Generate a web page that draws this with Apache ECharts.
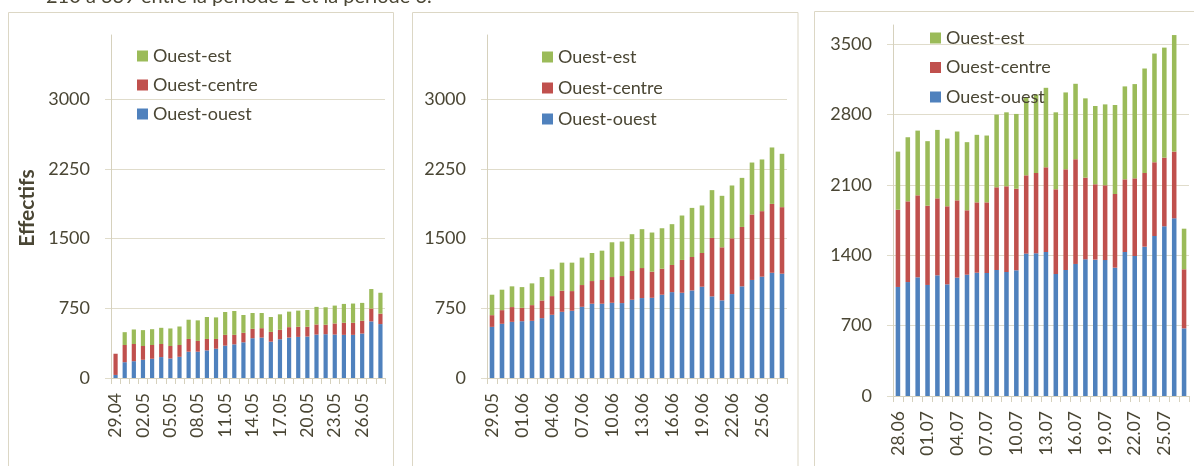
<!DOCTYPE html>
<html><head><meta charset="utf-8">
<script src="https://cdn.jsdelivr.net/npm/echarts@6/dist/echarts.min.js"></script>
<style>html,body{margin:0;padding:0;background:#fff}#c{width:1194px;height:466px}</style>
</head><body><div id="c"></div>
<script>
// ---- data ----
const cats1 = ['29.04','30.04','01.05','02.05','03.05','04.05','05.05','06.05','07.05','08.05','09.05','10.05','11.05','12.05','13.05','14.05','15.05','16.05','17.05','18.05','19.05','20.05','21.05','22.05','23.05','24.05','25.05','26.05','27.05','28.05'];
const cats2 = ['29.05','30.05','31.05','01.06','02.06','03.06','04.06','05.06','06.06','07.06','08.06','09.06','10.06','11.06','12.06','13.06','14.06','15.06','16.06','17.06','18.06','19.06','20.06','21.06','22.06','23.06','24.06','25.06','26.06','27.06'];
const cats3 = ['28.06','29.06','30.06','01.07','02.07','03.07','04.07','05.07','06.07','07.07','08.07','09.07','10.07','11.07','12.07','13.07','14.07','15.07','16.07','17.07','18.07','19.07','20.07','21.07','22.07','23.07','24.07','25.07','26.07','27.07'];

const p1Ouest  = [33,170,181,196,207,225,210,228,283,283,297,315,348,362,384,428,435,391,417,435,442,446,467,471,467,464,464,478,609,580];
const p1Centre = [228,185,185,148,148,141,134,127,137,116,123,105,116,102,102,101,101,105,101,112,109,105,109,102,120,130,130,138,138,112];
const p1Est    = [0,138,156,171,170,174,189,199,207,221,236,232,246,257,192,170,163,160,167,167,174,181,189,188,192,203,207,192,210,225];

const p2Ouest  = [550,583,604,611,615,644,680,712,723,766,799,799,809,806,842,860,863,896,924,917,942,982,878,835,903,986,1055,1090,1132,1122];
const p2Centre = [126,147,159,144,169,190,201,227,212,234,244,255,277,291,309,323,281,280,292,353,360,363,629,571,600,639,704,705,741,716];
const p2Est    = [220,220,223,223,234,252,288,302,306,295,302,316,374,371,396,418,421,435,439,478,528,511,514,554,568,528,559,556,607,574];

const p3Ouest  = [1085,1134,1181,1105,1201,1111,1178,1207,1227,1224,1254,1234,1251,1417,1420,1433,1214,1254,1314,1360,1357,1353,1277,1433,1393,1486,1592,1689,1768,673];
const p3Centre = [769,803,816,789,766,777,769,641,700,703,823,853,812,779,799,843,843,1002,1042,813,750,744,733,723,773,733,734,683,664,588];
const p3Est    = [578,638,644,642,681,674,685,678,672,665,723,736,744,776,781,791,766,765,751,789,779,805,886,925,938,1040,1082,1095,1160,404];

const yInterval1 = 750, yInterval3 = 700;
const seriesNames = ['Ouest-ouest','Ouest-centre','Ouest-est'];
const legendOrder = ['Ouest-est','Ouest-centre','Ouest-ouest'];
const headText = '210 à 339 entre la période 2 et la période 3.';
const yTitle = 'Effectifs';

// ---- style ----
const FONT = 'Lato';
const TXT = '#4a4634';
const GRID = '#e0dccb';
const AX = '#d6d1bd';
const COLORS = ['#4F81BD','#C0504D','#9BBB59'];

const panels = [
  {cats: cats1, data:[p1Ouest,p1Centre,p1Est], grid:{left:111, top:35, width:274, height:343}, max:3690, interval:yInterval1, legend:{left:132, top:41, gap:9}},
  {cats: cats2, data:[p2Ouest,p2Centre,p2Est], grid:{left:487, top:35, width:300, height:343}, max:3690, interval:yInterval1, legend:{left:537, top:42, gap:11}},
  {cats: cats3, data:[p3Ouest,p3Centre,p3Est], grid:{left:893, top:25, width:296, height:371}, max:3692, interval:yInterval3, legend:{left:925, top:23, gap:9.5}}
];

const option = {
  animation:false,
  textStyle:{fontFamily:FONT},
  grid: panels.map(p => Object.assign({containLabel:false}, p.grid)),
  legend: panels.map(p => ({
    data: legendOrder, orient:'vertical', left:p.legend.left, top:p.legend.top,
    itemWidth:11, itemHeight:11, itemGap:p.legend.gap, icon:'rect', selectedMode:false,
    textStyle:{fontFamily:FONT, fontSize:18, color:TXT, lineHeight:20}
  })),
  xAxis: panels.map((p,i) => ({
    type:'category', gridIndex:i, data:p.cats, boundaryGap:true,
    axisLine:{lineStyle:{color:AX, width:1}},
    axisTick:{show:true, interval:0, length:6, lineStyle:{color:AX}},
    axisLabel:{interval:2, rotate:90, margin:15, fontFamily:FONT, fontSize:17.5, color:TXT}
  })),
  yAxis: panels.map((p,i) => ({
    type:'value', gridIndex:i, min:0, max:p.max, interval:p.interval,
    axisLine:{show:true, lineStyle:{color:AX}},
    axisTick:{show:true, length:6, lineStyle:{color:GRID}},
    axisLabel:{margin:21, fontFamily:FONT, fontSize:18, color:TXT, showMaxLabel:false, formatter: v => String(v)},
    splitLine:{show:true, showMaxLine:false, lineStyle:{color:GRID, width:1}}
  })),
  series: [],
  graphic: [
    {type:'rect', shape:{x:8.5, y:12.5, width:385, height:500}, style:{fill:'none', stroke:'#dcd7c5', lineWidth:1}, silent:true},
    {type:'rect', shape:{x:412.5, y:12.5, width:385.5, height:500}, style:{fill:'none', stroke:'#dcd7c5', lineWidth:1}, silent:true},
    {type:'rect', shape:{x:814.5, y:11.5, width:420, height:500}, style:{fill:'none', stroke:'#dcd7c5', lineWidth:1}, silent:true},
    {type:'text', x:46, y:-13, style:{text:headText, fontFamily:FONT, fontSize:20, fill:TXT, verticalAlign:'top'}, silent:true},
    {type:'text', x:27, y:208, rotation:Math.PI/2, style:{text:yTitle, fontFamily:FONT, fontSize:21, fontWeight:'bold', fill:TXT, align:'center', verticalAlign:'middle'}, silent:true}
  ]
};

panels.forEach((p,i) => {
  seriesNames.forEach((n,k) => {
    option.series.push({
      type:'bar', name:n, xAxisIndex:i, yAxisIndex:i, stack:'s'+i,
      data:p.data[k], barWidth:'46%', itemStyle:{color:COLORS[k]}
    });
  });
});

const chart = echarts.init(document.getElementById('c'), null, {renderer:'canvas'});
chart.setOption(option);
</script>
</body></html>
